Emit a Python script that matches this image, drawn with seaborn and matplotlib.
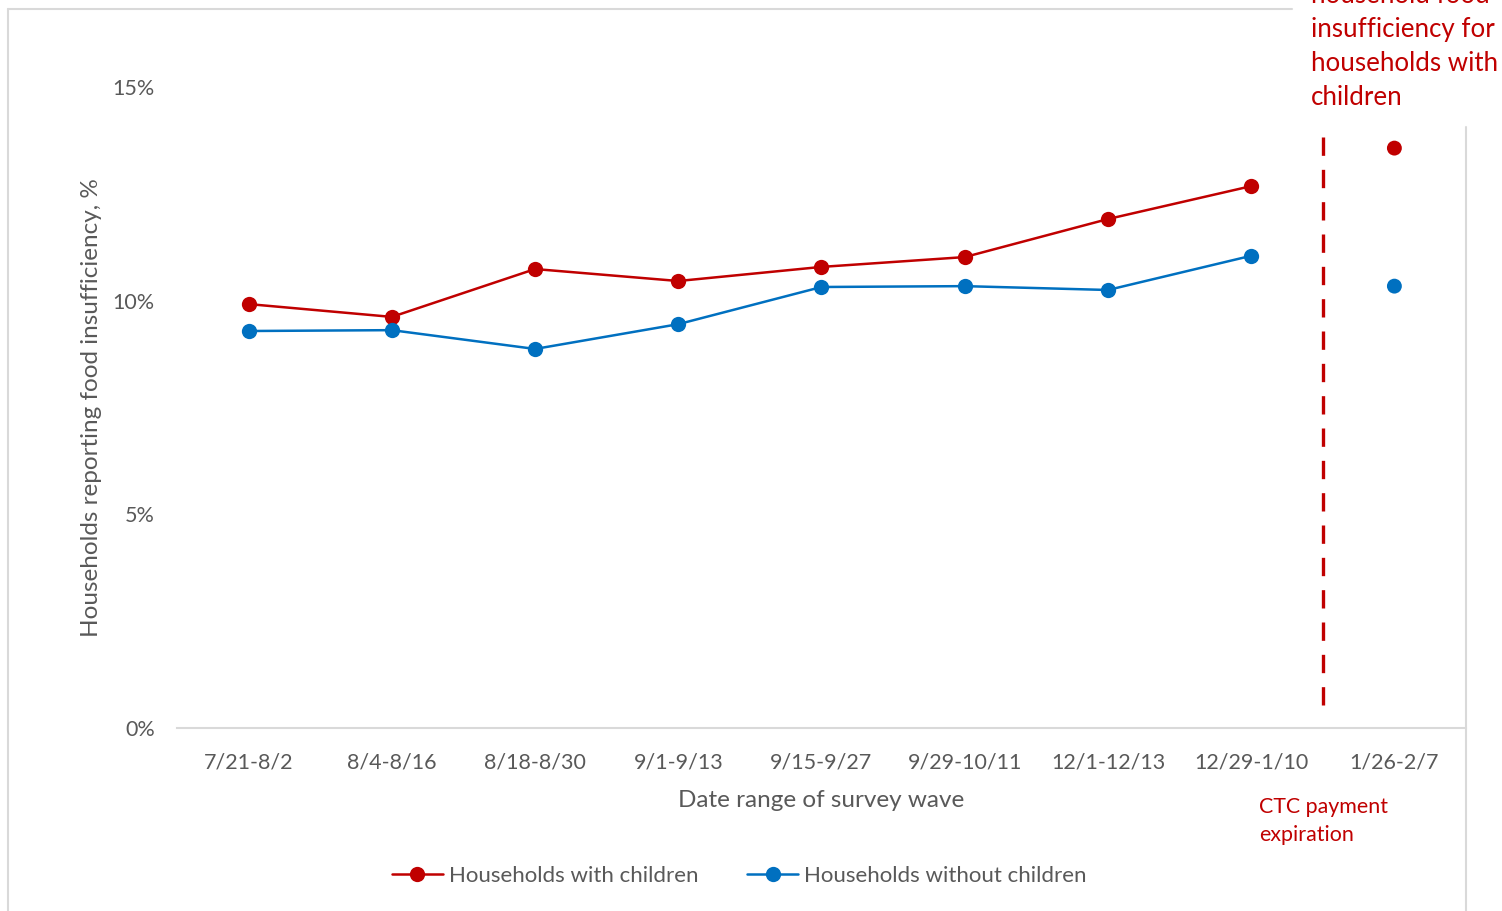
import matplotlib
matplotlib.use("Agg")
import matplotlib.pyplot as plt
from matplotlib.lines import Line2D
import seaborn as sns
import pandas as pd

categories = ["7/21-8/2", "8/4-8/16", "8/18-8/30", "9/1-9/13", "9/15-9/27",
              "9/29-10/11", "12/1-12/13", "12/29-1/10", "1/26-2/7"]
with_children = [9.92, 9.62, 10.74, 10.46, 10.79, 11.02, 11.91, 12.68, 13.57]
without_children = [9.29, 9.31, 8.87, 9.45, 10.32, 10.34, 10.25, 11.05, 10.34]
y_ticks = [0, 5, 10, 15]
y_tick_labels = ["0%", "5%", "10%", "15%"]

RED = "#C00000"
BLUE = "#0070C0"
GRAY_TXT = "#595959"
FONT = ["Lato", "DejaVu Sans"]

sns.set_theme(style="white")
plt.rcParams["font.family"] = FONT

fig = plt.figure(figsize=(15.02, 9.11), dpi=100)
W, H = 1502, 911
ax = fig.add_axes([177 / W, 1 - 728 / H, (1466 - 177) / W, (728 - 87) / H])

n_line = len(categories) - 1
df = pd.DataFrame({
    "pos": list(range(n_line)) * 2,
    "value": with_children[:n_line] + without_children[:n_line],
    "series": ["Households with children"] * n_line + ["Households without children"] * n_line,
})
sns.lineplot(data=df, x="pos", y="value", hue="series",
             palette={"Households with children": RED, "Households without children": BLUE},
             marker="o", markersize=11, markeredgewidth=0, linewidth=1.8,
             legend=False, ax=ax)

last = pd.DataFrame({
    "pos": [n_line, n_line],
    "value": [with_children[-1], without_children[-1]],
    "series": ["Households with children", "Households without children"],
})
sns.scatterplot(data=last, x="pos", y="value", hue="series",
                palette={"Households with children": RED, "Households without children": BLUE},
                s=115, linewidth=0, legend=False, ax=ax)

# CTC expiration dashed line
ax.plot([n_line - 0.5, n_line - 0.5], [0.54, 14.07], color=RED, lw=2.4,
        dashes=(5.5, 4.2), clip_on=False)

ax.set_xlim(-0.5, len(categories) - 0.5)
ax.set_ylim(0, 15)
ax.set_xticks(range(len(categories)))
ax.set_xticklabels(categories)
ax.set_yticks(y_ticks)
ax.set_yticklabels(y_tick_labels)
ax.tick_params(axis="both", length=0, labelsize=15.5, colors=GRAY_TXT)
ax.tick_params(axis="x", pad=17.5)
ax.tick_params(axis="y", pad=16)
for s in ["left", "right", "top"]:
    ax.spines[s].set_visible(False)
ax.spines["bottom"].set_color("#D9D9D9")
ax.spines["bottom"].set_linewidth(1.5)
ax.grid(False)

ax.set_xlabel("Date range of survey wave", fontsize=17.5, color=GRAY_TXT, labelpad=13)
ax.set_ylabel("Households reporting food insufficiency, %", fontsize=17.5, color=GRAY_TXT)
ax.yaxis.set_label_coords((102 - 177) / (1466 - 177), (728 - 408) / (728 - 87))

# Figure border
bc = "#D9D9D9"
fig.add_artist(Line2D([8 / W, 1292 / W], [1 - 9 / H, 1 - 9 / H], color=bc, lw=1.5))
fig.add_artist(Line2D([8 / W, 8 / W], [1 - 9 / H, 0], color=bc, lw=1.5))
fig.add_artist(Line2D([1466 / W, 1466 / W], [1 - 127 / H, 0], color=bc, lw=1.5))

# Annotations
fig.text(1311 / W, 1 - 110 / H,
         "household food\ninsufficiency for\nhouseholds with\nchildren",
         color=RED, fontsize=18.6, ha="left", va="bottom", linespacing=1.45)
fig.text(1259 / W, 1 - 797 / H, "CTC payment\nexpiration", color=RED,
         fontsize=15.4, ha="left", va="top", linespacing=1.5)

# Legend
handles = [
    Line2D([], [], color=RED, lw=1.8, marker="o", markersize=11, markeredgewidth=0),
    Line2D([], [], color=BLUE, lw=1.8, marker="o", markersize=11, markeredgewidth=0),
]
fig.legend(handles, ["Households with children", "Households without children"],
           loc="center", bbox_to_anchor=(739 / W, 1 - 876 / H), ncol=2, frameon=False,
           fontsize=16, handlelength=2.3, handletextpad=0.25, columnspacing=2.2,
           labelcolor=GRAY_TXT)

fig.savefig("out.png", dpi=100)
